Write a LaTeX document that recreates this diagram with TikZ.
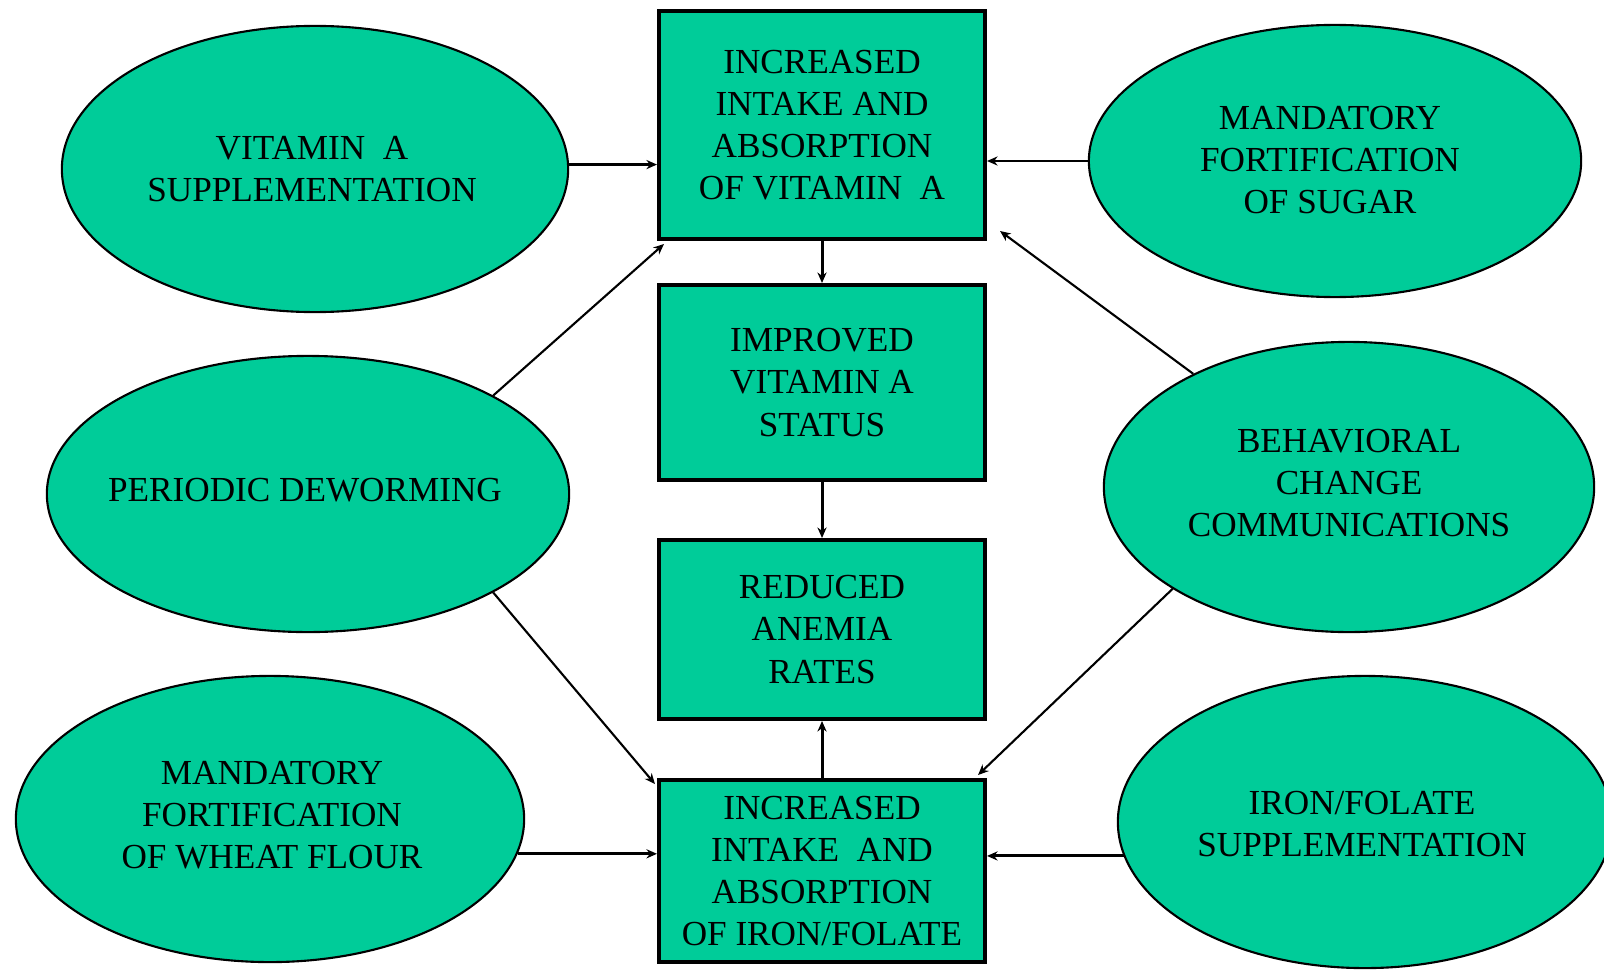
\documentclass[tikz,border=0pt]{standalone}
\usepackage{fontspec}
\setmainfont{Liberation Serif}
\usetikzlibrary{shapes.geometric,arrows.meta,calc}
\definecolor{teal1}{RGB}{0,204,153}
\begin{document}
\begin{tikzpicture}[x=0.01cm,y=-0.01cm,
  box/.style={rectangle, draw=black, line width=1.1pt, fill=teal1, inner sep=0pt,
    minimum width=3.26cm, align=center, font=\fontsize{10}{11.95}\selectfont},
  oval/.style={ellipse, draw=black, line width=0.6pt, fill=teal1, inner sep=0pt},
  txt/.style={align=center, inner sep=0pt, font=\fontsize{10}{11.95}\selectfont},
  arr/.style={-{Stealth[length=3pt,width=2.6pt]}, line width=0.85pt},
  diag/.style={-{Stealth[length=3pt,width=2.6pt]}, line width=0.6pt}]
\useasboundingbox (0,0) rectangle (1604,970);
\clip (0,0) rectangle (1604,970);
\fill[white] (0,0) rectangle (1604,970);

% central boxes
\node[box, minimum height=2.28cm] (b1) at (822,125)
  {INCREASED\\INTAKE AND\\ABSORPTION\\OF VITAMIN\ \ A};
\node[box, minimum height=1.95cm] (b2) at (822,382.5)
  {IMPROVED\\VITAMIN A\\STATUS};
\node[box, minimum height=1.79cm] (b3) at (822,629.5)
  {REDUCED\\ANEMIA\\RATES};
\node[box, minimum height=1.82cm] (b4) at (822,871)
  {INCREASED\\INTAKE\ \ AND\\ABSORPTION\\OF IRON/FOLATE};

% ellipses
\node[oval, minimum width=5.06cm, minimum height=2.86cm] (e1) at (315,169) {};
\node[txt] (e1t) at (312,169) {VITAMIN\ \ A\\SUPPLEMENTATION};
\node[oval, minimum width=5.22cm, minimum height=2.76cm] (e2) at (308,494) {};
\node[txt] (e2t) at (305,490) {PERIODIC DEWORMING};
\node[oval, minimum width=5.08cm, minimum height=2.86cm] (e3) at (270,819) {};
\node[txt] (e3t) at (272,815) {MANDATORY\\FORTIFICATION\\OF WHEAT FLOUR};
\node[oval, minimum width=4.92cm, minimum height=2.72cm] (e4) at (1335,161) {};
\node[txt] (e4t) at (1330,160) {MANDATORY\\FORTIFICATION\\OF SUGAR};
\node[oval, minimum width=4.90cm, minimum height=2.90cm] (e5) at (1349,487) {};
\node[txt] (e5t) at (1349,483) {BEHAVIORAL\\CHANGE\\COMMUNICATIONS};
\node[oval, minimum width=4.94cm, minimum height=2.92cm] (e6) at (1365,822) {};
\node[txt] (e6t) at (1362,824) {IRON/FOLATE\\SUPPLEMENTATION};

% horizontal connectors
\draw[arr] (e1.1.4) -- (e1.1.4 -| b1.west);
\draw[arr] (e4.180.5) -- (e4.180.5 -| b1.east);
\draw[arr] (e3.-8.8) -- (e3.-8.8 -| b4.west);
\draw[arr] (e6.188.3) -- (e6.188.3 -| b4.east);

% vertical connectors
\draw[arr] (b1.south) -- (b2.north);
\draw[arr] (b2.south) -- (b3.north);
\draw[arr] (b4.north) -- (b3.south);

% diagonal connectors
\draw[diag] (e2.28.6) -- ($(b1.south west)+(7,3)$);
\draw[diag] (e2.-28.6) -- ($(b4.north west)+(-2,6)$);
\draw[diag] (e5.144.9) -- ($(b1.south east)+(13,-10)$);
\draw[diag] (e5.210.1) -- ($(b4.north east)+(-9,-3)$);
\end{tikzpicture}
\end{document}
